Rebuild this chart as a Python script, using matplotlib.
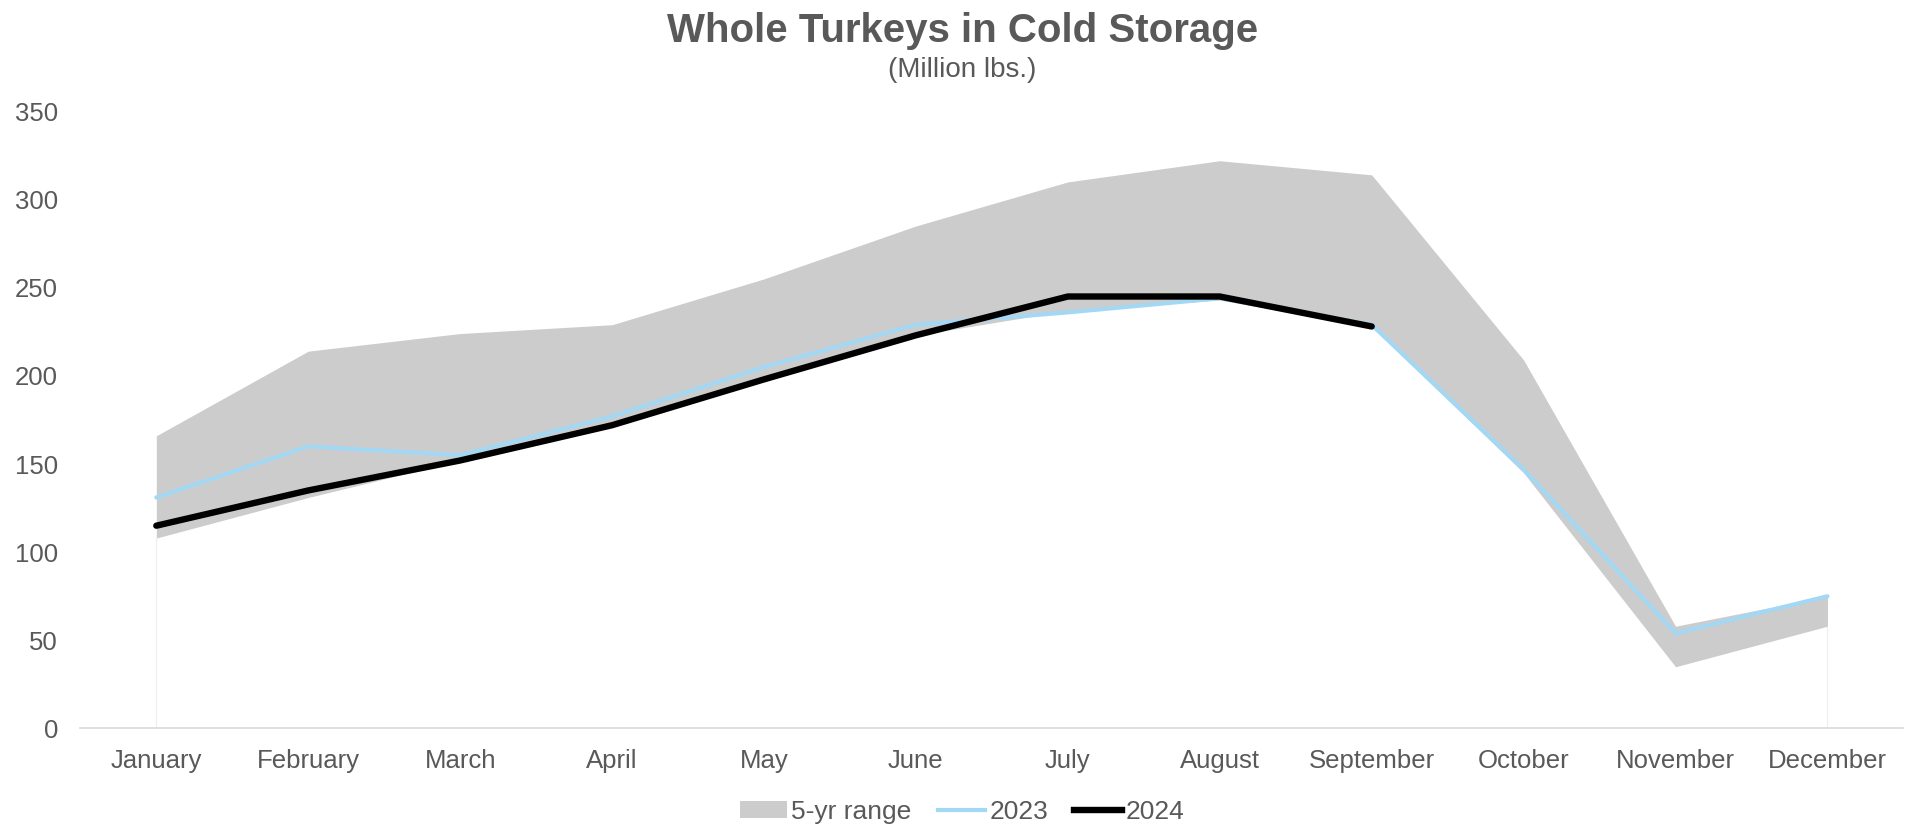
import matplotlib.pyplot as plt
from matplotlib.patches import Patch
from matplotlib.lines import Line2D
import numpy as np

plt.rcParams['font.family'] = ['Liberation Sans', 'DejaVu Sans']

months = ['January', 'February', 'March', 'April', 'May', 'June',
          'July', 'August', 'September', 'October', 'November', 'December']

# 5-year min / max (million lbs)
range_low = [108, 131, 152, 172, 198, 223, 237, 243, 228, 145, 35, 58]
range_high = [166, 214, 224, 229, 255, 285, 310, 322, 314, 209, 58, 75]

y2023 = [131, 160, 155, 177, 205, 229, 236, 244, 229, 147, 54, 75]
y2024 = [115, 135, 152, 172, 198, 223, 245, 245, 228]

text_col = '#595959'
fill_col = '#cccccc'
blue = '#a3d8f4'

fig = plt.figure(figsize=(19.13, 8.25), dpi=100)
ax = fig.add_axes([0.042, 0.117, 0.953, 0.748])

x = np.arange(len(months))
ax.fill_between(x, range_low, range_high, color=fill_col, linewidth=0, zorder=1)
# faint edges of the transparent base series
ax.vlines([x[0], x[-1]], 0, [range_low[0], range_low[-1]], color='#f0f0f0', linewidth=1, zorder=0)
ax.plot(x, y2023, color=blue, linewidth=3.0, solid_capstyle='round', zorder=2)
ax.plot(x[:len(y2024)], y2024, color='black', linewidth=4.6, solid_capstyle='round', zorder=3)

ax.set_xlim(-0.5, len(months) - 0.5)
ax.set_ylim(0, 350)
ax.set_yticks(range(0, 351, 50))
ax.set_xticks(x)
ax.set_xticklabels(months)
ax.tick_params(axis='both', length=0, labelsize=18.5, labelcolor=text_col)
ax.tick_params(axis='y', pad=16)
ax.tick_params(axis='x', pad=15)

for s in ['top', 'right', 'left']:
    ax.spines[s].set_visible(False)
ax.spines['bottom'].set_color('#d9d9d9')
ax.spines['bottom'].set_linewidth(1.2)

fig.text(0.503, 0.962, 'Whole Turkeys in Cold Storage', ha='center', va='center',
         fontsize=29, fontweight='bold', color=text_col)
fig.text(0.503, 0.915, '(Million lbs.)', ha='center', va='center',
         fontsize=20, color=text_col)

handles = [Patch(facecolor=fill_col, edgecolor='none'),
           Line2D([], [], color=blue, linewidth=3.0),
           Line2D([], [], color='black', linewidth=4.6)]
leg = fig.legend(handles, ['5-yr range', '2023', '2024'], loc='center',
                 bbox_to_anchor=(0.503, 0.016), ncol=3, frameon=False,
                 fontsize=19, handlelength=1.8, handletextpad=0.15,
                 columnspacing=1.0, handleheight=0.6)
for t in leg.get_texts():
    t.set_color(text_col)

fig.savefig('out.png', dpi=100, facecolor='white')
